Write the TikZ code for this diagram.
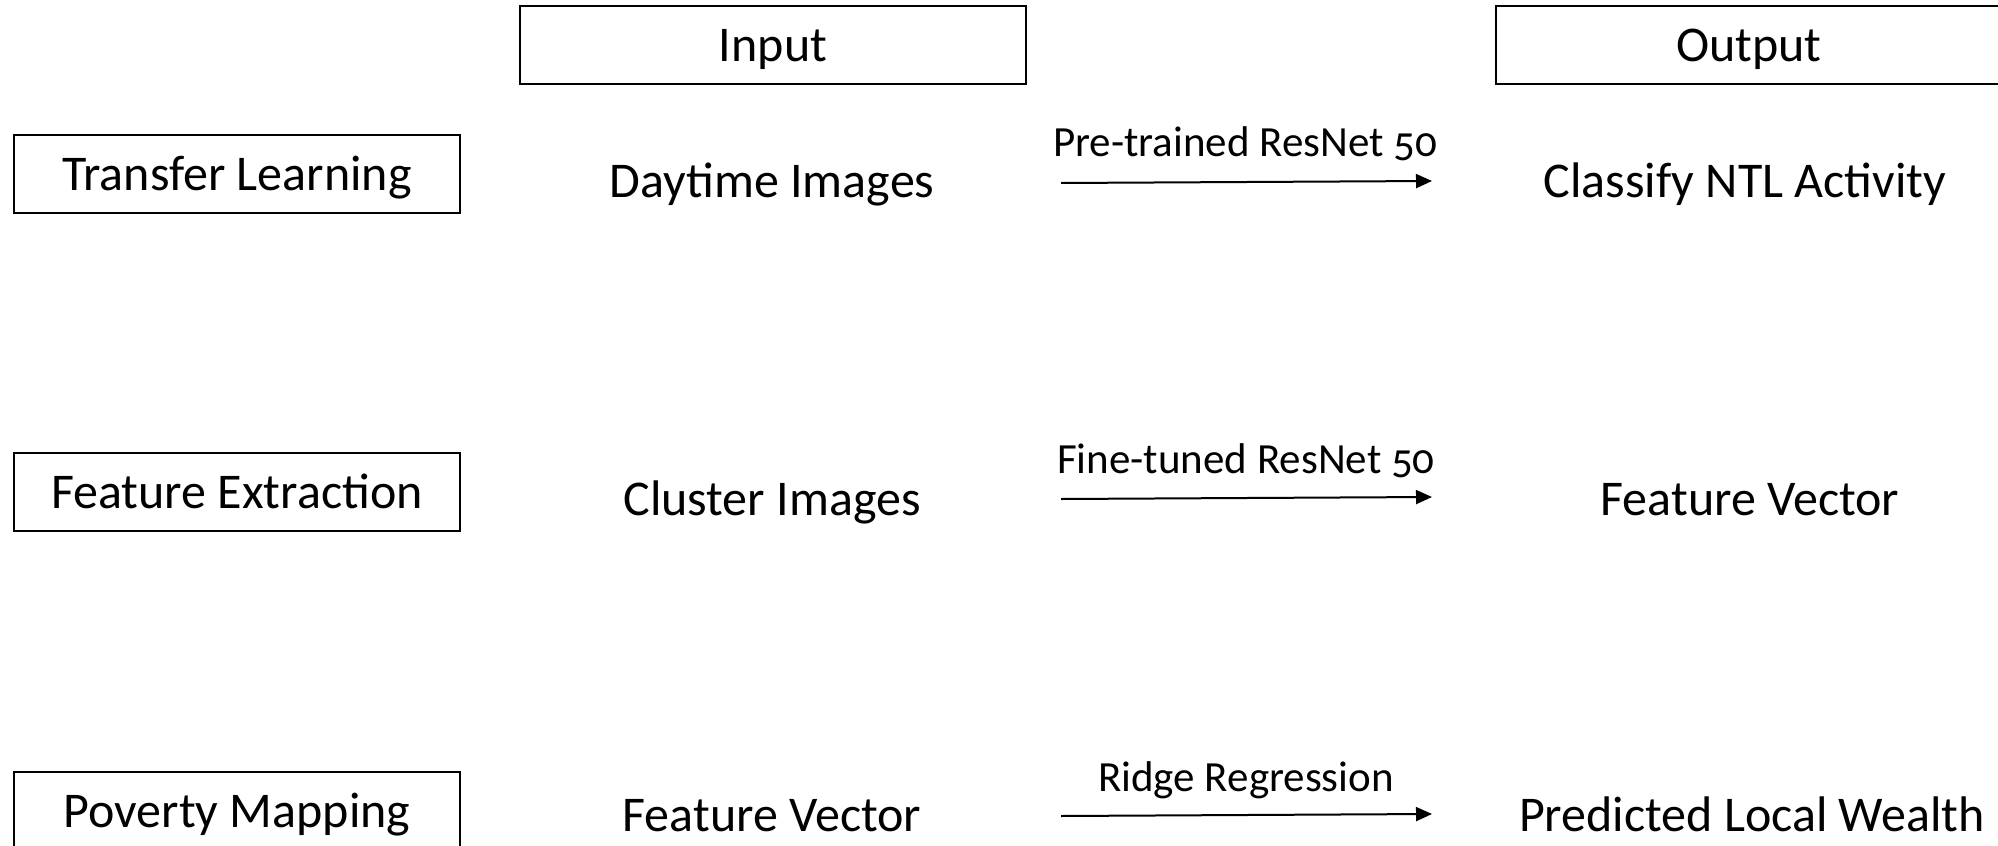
\documentclass[tikz,border=0pt]{standalone}
\usepackage{fontspec}
\setmainfont{Carlito}[Numbers=OldStyle]
\usetikzlibrary{arrows.meta}

\begin{document}
\begin{tikzpicture}[x=0.5pt,y=-0.5pt]
\tikzstyle{stage}=[draw,line width=0.8pt,minimum width=223pt,minimum height=39pt,inner sep=0pt,font=\fontsize{25}{30}\selectfont,text height=16.1pt,text depth=0pt]
\tikzstyle{header}=[stage,minimum width=253pt]
\tikzstyle{item}=[inner sep=0pt,font=\fontsize{25}{30}\selectfont,text height=16.1pt,text depth=0pt]
\tikzstyle{lbl}=[inner sep=0pt,font=\fontsize{21.5}{26}\selectfont,text height=13.8pt,text depth=0pt]
\tikzstyle{flow}=[line width=1pt,-{Triangle[length=8pt,width=7pt]}]
\useasboundingbox (0,0) rectangle (1998,846);
\clip (0,0) rectangle (1998,846);
% column headers
\node[header] (in) at (773,45) {Input};
\node[header] (out) at (1749,45) {Output};
% stages
\node[stage] (1) at (237,174) {Transfer Learning};
\node[stage] (2) at (237,492) {Feature Extraction};
\node[stage] (3) at (237,811) {Poverty Mapping};
% inputs and outputs
\node[item] (in1) at (772,181) {Daytime Images};
\node[item] (out1) at (1745,181) {Classify NTL Activity};
\node[item] (in2) at (772,499) {Cluster Images};
\node[item] (out2) at (1750,499) {Feature Vector};
\node[item] (in3) at (772,815) {Feature Vector};
\node[item] (out3) at (1752,815) {Predicted Local Wealth};
% arrows
\coordinate (a1) at (1061,183);
\coordinate (b1) at (1432,181);
\coordinate (a2) at (1061,499);
\coordinate (b2) at (1432,497);
\coordinate (a3) at (1061,816);
\coordinate (b3) at (1432,814);
\draw[flow] (a1) -- (b1);
\draw[flow] (a2) -- (b2);
\draw[flow] (a3) -- (b3);
\node[lbl] (m1) at (1245,143) {Pre-trained ResNet 50};
\node[lbl] (m2) at (1246,460) {Fine-tuned ResNet 50};
\node[lbl] (m3) at (1246,778) {Ridge Regression};
\end{tikzpicture}
\end{document}
